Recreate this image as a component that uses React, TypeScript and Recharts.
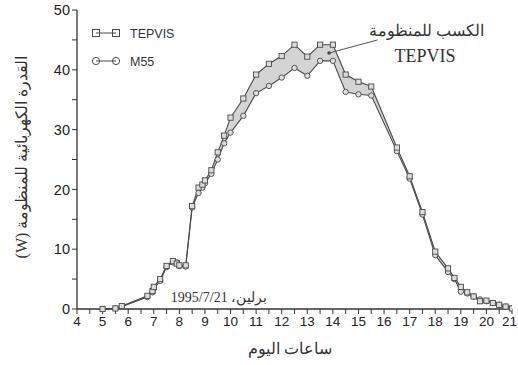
import React from "react";
import {
  ComposedChart,
  Line,
  Area,
  XAxis,
  YAxis,
  ReferenceDot,
  ReferenceLine,
} from "recharts";

// Hours of the day
const hours = [
  5.0, 5.5, 5.75, 6.75, 6.95, 7.0, 7.25, 7.5, 7.75, 7.9, 8.0, 8.25, 8.5, 8.75,
  8.9, 9.0, 9.25, 9.5, 9.75, 10.0, 10.5, 11.0, 11.5, 12.0, 12.5, 13.0, 13.5,
  14.0, 14.5, 15.0, 15.5, 16.5, 17.0, 17.5, 18.0, 18.5, 18.75, 19.0, 19.25,
  19.5, 19.75, 20.0, 20.25, 20.5, 20.75, 21.0,
];
// System power, TEPVIS (W)
const tepvis = [
  0, 0.1, 0.5, 2.2, 3.0, 3.7, 5.0, 7.2, 8.0, 7.6, 7.3, 7.3, 17.2, 20.3, 20.8,
  21.5, 23.2, 26.2, 29.0, 32.0, 35.2, 39.2, 41.0, 42.3, 44.2, 42.2, 44.2, 44.2,
  39.2, 38.0, 37.2, 27.0, 22.2, 16.2, 9.6, 6.8, 5.2, 3.7, 2.8, 2.1, 1.3, 1.4,
  1.0, 0.7, 0.4, 0.1,
];
// System power, M55 (W)
const m55 = [
  0, 0.1, 0.4, 2.0, 2.8, 3.4, 4.7, 7.0, 7.8, 7.8, 7.2, 7.1, 17.0, 19.4, 20.3,
  21.0, 22.6, 25.0, 27.7, 29.5, 32.3, 36.1, 37.3, 38.7, 40.3, 39.0, 41.5, 41.5,
  36.3, 35.9, 35.7, 26.4, 21.8, 15.8, 9.0, 6.2, 5.0, 2.9, 2.6, 2.1, 1.6, 1.3,
  1.0, 0.7, 0.4, 0.1,
];
// Axis ticks
const xTicks = [
  4, 4.5, 5, 5.5, 6, 6.5, 7, 7.5, 8, 8.5, 9, 9.5, 10, 10.5, 11, 11.5, 12, 12.5,
  13, 13.5, 14, 14.5, 15, 15.5, 16, 16.5, 17, 17.5, 18, 18.5, 19, 19.5, 20,
  20.5, 21,
];
const yTicks = [0, 5, 10, 15, 20, 25, 30, 35, 40, 45, 50];
// Annotation point (gain region) and leader end
const gainPoint = { x: 13.85, y: 42.8 };
const gainLeaderEnd = { x: 15.75, y: 45 };

const data = hours.map((t, i) => ({
  t,
  T: tepvis[i],
  M: m55[i],
  band: [m55[i], tepvis[i]],
}));

const AX = "#333";
const LINE = "#4a4a4a";
const SANS = "'Liberation Sans', Arial, sans-serif";
const SERIF = "'Liberation Serif', 'DejaVu Serif', serif";

const SquareDot = (props: any) => {
  const { cx, cy, index } = props;
  if (cx == null || cy == null) return <g key={`s${index}`} />;
  return (
    <rect
      key={`s${index}`}
      x={cx - 2.6}
      y={cy - 2.6}
      width={5.2}
      height={5.2}
      fill="#dcdcdc"
      stroke={LINE}
      strokeWidth={0.9}
    />
  );
};

const CircleDot = (props: any) => {
  const { cx, cy, index } = props;
  if (cx == null || cy == null) return <g key={`c${index}`} />;
  return (
    <circle
      key={`c${index}`}
      cx={cx}
      cy={cy}
      r={2.7}
      fill="#dcdcdc"
      stroke={LINE}
      strokeWidth={0.9}
    />
  );
};

const XTick = (props: any) => {
  const { x, y, payload, index, visibleTicksCount } = props;
  const v = payload.value;
  if (!Number.isInteger(v)) return <g />;
  const last = v === 21;
  return (
    <text
      x={last ? 517 : x}
      y={y}
      dy="0.71em"
      textAnchor={last ? "end" : "middle"}
      fill="#222"
      fontSize={13.5}
      fontFamily={SANS}
    >
      {v}
    </text>
  );
};

const YTick = (props: any) => {
  const { x, y, payload } = props;
  const v = payload.value;
  if (v % 10 !== 0) return <g />;
  return (
    <text
      x={x}
      y={y}
      dy="0.36em"
      textAnchor="end"
      fill="#222"
      fontSize={14.5}
      fontFamily={SANS}
    >
      {v}
    </text>
  );
};

export default function App() {
  return (
    <div
      style={{
        position: "absolute",
        left: 0,
        top: 0,
        width: 518,
        height: 365,
        background: "#fff",
      }}
    >
      <ComposedChart
        width={518}
        height={365}
        data={data}
        margin={{ top: 10, right: 6, bottom: 0, left: 0 }}
      >
        <XAxis
          xAxisId="b"
          dataKey="t"
          type="number"
          domain={[4, 21]}
          ticks={xTicks}
          interval={0}
          allowDataOverflow
          height={56}
          tickSize={5}
          tick={<XTick />}
          stroke={AX}
          axisLine={{ stroke: AX, strokeWidth: 1.3 }}
          tickLine={{ stroke: AX, strokeWidth: 1 }}
        />
        <XAxis
          xAxisId="top"
          dataKey="t"
          type="number"
          orientation="top"
          domain={[4, 21]}
          ticks={xTicks}
          interval={0}
          height={0}
          mirror
          tickSize={4}
          tick={false}
          axisLine={{ stroke: AX, strokeWidth: 1.3 }}
          tickLine={{ stroke: AX, strokeWidth: 1 }}
        />
        <YAxis
          yAxisId="l"
          type="number"
          domain={[0, 50]}
          ticks={yTicks}
          interval={0}
          width={77}
          tickSize={5}
          tick={<YTick />}
          axisLine={{ stroke: AX, strokeWidth: 1.3 }}
          tickLine={{ stroke: AX, strokeWidth: 1 }}
        />
        <YAxis
          yAxisId="r"
          type="number"
          orientation="right"
          domain={[0, 50]}
          ticks={yTicks}
          interval={0}
          width={0}
          mirror
          tickSize={4}
          tick={false}
          axisLine={{ stroke: AX, strokeWidth: 1.3 }}
          tickLine={{ stroke: AX, strokeWidth: 1 }}
        />
        <Area
          xAxisId="b"
          yAxisId="l"
          dataKey="band"
          type="linear"
          fill="#d4d4d4"
          fillOpacity={1}
          stroke="none"
          dot={false}
          activeDot={false}
          isAnimationActive={false}
        />
        <Line
          xAxisId="b"
          yAxisId="l"
          dataKey="M"
          type="linear"
          stroke={LINE}
          strokeWidth={1.1}
          dot={CircleDot}
          activeDot={false}
          isAnimationActive={false}
        />
        <Line
          xAxisId="b"
          yAxisId="l"
          dataKey="T"
          type="linear"
          stroke={LINE}
          strokeWidth={1.1}
          dot={SquareDot}
          activeDot={false}
          isAnimationActive={false}
        />
        <ReferenceLine
          xAxisId="b"
          yAxisId="l"
          segment={[gainPoint, gainLeaderEnd]}
          stroke="#555"
          strokeWidth={1}
        />
        <ReferenceDot
          xAxisId="b"
          yAxisId="l"
          x={gainPoint.x}
          y={gainPoint.y}
          r={1.8}
          fill="#444"
          stroke="none"
        />
      </ComposedChart>
      <svg
        width={518}
        height={365}
        style={{ position: "absolute", left: 0, top: 0, pointerEvents: "none" }}
      >
        {/* legend */}
        <line x1={96} y1={33} x2={116} y2={33} stroke={LINE} strokeWidth={1} />
        <rect x={92.5} y={29.5} width={7} height={7} fill="none" stroke={LINE} strokeWidth={1} />
        <rect x={112.5} y={29.5} width={7} height={7} fill="none" stroke={LINE} strokeWidth={1} />
        <text x={130} y={37.5} fontSize={12.5} fontFamily={SANS} fill="#333">
          TEPVIS
        </text>
        <line x1={96} y1={61} x2={116} y2={61} stroke={LINE} strokeWidth={1} />
        <circle cx={96} cy={61} r={3.6} fill="none" stroke={LINE} strokeWidth={1} />
        <circle cx={116} cy={61} r={3.6} fill="none" stroke={LINE} strokeWidth={1} />
        <text x={130} y={65.5} fontSize={12.5} fontFamily={SANS} fill="#333">
          M55
        </text>
        {/* gain annotation */}
        <text x={426} y={36} fontSize={16} fontFamily={SERIF} fill="#333" textAnchor="middle">
          الكسب للمنظومة
        </text>
        <text x={425} y={62} fontSize={18} fontFamily={SERIF} fill="#333" textAnchor="middle">
          TEPVIS
        </text>
        {/* date */}
        <text x={219} y={302} fontSize={14} fontFamily={SERIF} fill="#333" textAnchor="middle" direction="rtl">
          برلين، 1995/7/21
        </text>
        {/* axis titles */}
        <text
          x={0}
          y={0}
          transform="translate(27,157) rotate(-90)"
          fontSize={16}
          fontFamily={SERIF}
          fill="#333"
          textAnchor="middle"
        >
          (W) القدرة الكهربائية للمنظومة
        </text>
        <text x={290} y={354} fontSize={16} fontFamily={SANS} fill="#333" textAnchor="middle">
          ساعات اليوم
        </text>
      </svg>
    </div>
  );
}
